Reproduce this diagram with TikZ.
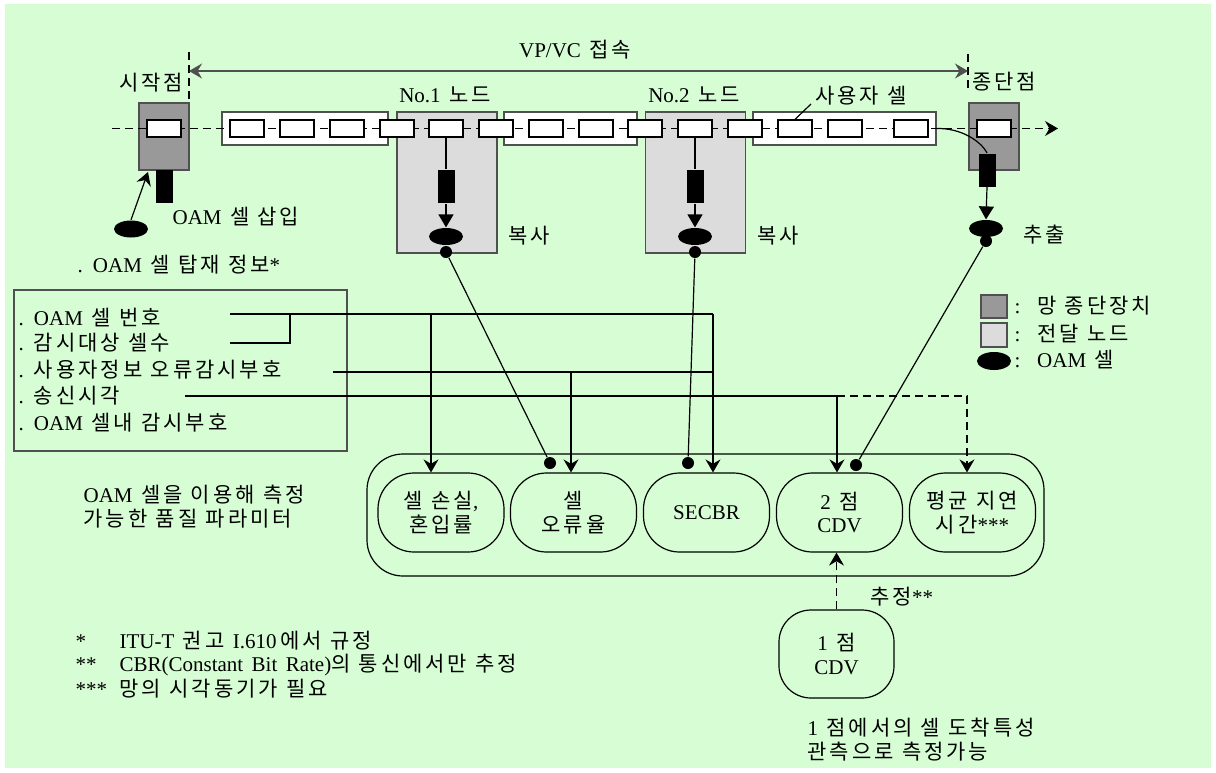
\documentclass[tikz,border=0pt]{standalone}
\usepackage{fontspec}
\setmainfont{Liberation Serif}[WordSpace=1.6]
\newfontfamily\krfont{Noto Sans CJK KR}[Scale=1.0, LetterSpace=14]
\usetikzlibrary{arrows.meta,shapes.geometric}

% Hangul goes to the CJK font, the rest stays in the main font
\XeTeXinterchartokenstate=1
\newXeTeXintercharclass\hangulclass
\newcount\hcnt
\hcnt="AC00
\loop
  \XeTeXcharclass\hcnt=\hangulclass
  \ifnum\hcnt<"D7A3 \advance\hcnt by 1 \repeat
\XeTeXinterchartoks 0 \hangulclass = {\krfont}
\XeTeXinterchartoks 4095 \hangulclass = {\krfont}
\XeTeXinterchartoks \hangulclass 0 = {\rmfamily}
\XeTeXinterchartoks \hangulclass 4095 = {\rmfamily}

\definecolor{bggreen}{RGB}{214,253,212}
\definecolor{termgray}{RGB}{153,153,153}
\definecolor{relaygray}{RGB}{220,220,220}
\definecolor{edgec}{RGB}{80,80,80}

\begin{document}
\begin{tikzpicture}[x=0.5pt, y=-0.5pt, line width=0.6pt,
  font=\fontsize{10.5}{11.75}\selectfont,
  txt/.style={inner sep=0pt, anchor=west},
  lbl/.style={inner sep=0pt},
  pipe/.style={draw=edgec, fill=white, minimum height=16.5pt, inner sep=0pt},
  relay/.style={draw=edgec, fill=relaygray, minimum width=50pt, minimum height=70.5pt, inner sep=0pt},
  term/.style={draw=edgec, fill=termgray, minimum width=25pt, minimum height=33.5pt, inner sep=0pt},
  cell/.style={draw, fill=white, minimum width=17pt, minimum height=8.5pt, inner sep=0pt},
  blk/.style={fill=black, minimum width=8.5pt, minimum height=16.5pt, inner sep=0pt},
  oam/.style={ellipse, fill=black, minimum width=17pt, minimum height=8.5pt, inner sep=0pt},
  oamdot/.style={circle, fill=black, minimum size=6pt, inner sep=0pt},
  pill/.style={draw, rounded corners=18pt, minimum width=63pt, minimum height=39.5pt, align=center, inner sep=0pt},
  arr/.style={-{Stealth[length=6.5pt, width=7.5pt, inset=2.2pt]}},
  dbl/.style={{Stealth[length=6.5pt, width=7.5pt, inset=2.2pt]}-{Stealth[length=6.5pt, width=7.5pt, inset=2.2pt]}},
  tri/.style={-{Triangle[length=6.5pt, width=7.5pt]}},
  dsh/.style={dash pattern=on 4pt off 2.5pt}
]

  % --- Background ---
  \useasboundingbox (0,0) rectangle (1216,772);
  \fill[white] (0,0) rectangle (1216,772);
  \fill[bggreen] (5,4) rectangle (1211,768);

  % --- VP/VC span ---
  \coordinate (vl) at (189,71);
  \coordinate (vr) at (968,71);
  \coordinate (vlt) at (189,52);  \coordinate (vlb) at (189,103);
  \coordinate (vrt) at (968,54);  \coordinate (vrb) at (968,92);
  \draw[dsh] (vlt) -- (vlb);
  \draw[dsh] (vrt) -- (vrb);
  \draw[dbl, edgec] (vl) -- (vr);
  \node[lbl] (vpvc) at (575,50) {VP/VC 접속};
  \node[lbl] (srcl) at (151,83) {시작점};
  \node[lbl] (dstl) at (1004,82) {종단점};
  \node[lbl] (n1l) at (445,95) {No.1 노드};
  \node[lbl] (n2l) at (694,95) {No.2 노드};

  % --- Boxes along the path ---
  \node[pipe, minimum width=83pt] (p1) at (305,128.5) {};
  \node[pipe, minimum width=66.5pt] (p2) at (570.5,128.5) {};
  \node[pipe, minimum width=91.5pt] (p3) at (844.5,128.5) {};
  \node[relay] (n1) at (447,182.5) {};
  \node[relay] (n2) at (695.5,182.5) {};
  \node[term] (st) at (164,136.5) {};
  \node[term] (et) at (994,136.5) {};

  % --- Cell stream ---
  \coordinate (lin) at (112,128.5);
  \coordinate (lout) at (1058,128.5);
  \draw[dsh, arr] (lin) -- (lout);
  \foreach \cx [count=\i] in {164,247,297,347,397,446,496,546,596,645,695,745,795,845,911,994}
    \node[cell] (c\i) at (\cx,128.5) {};
  \node[lbl] (usr) at (861,96) {사용자 셀};
  \coordinate (usrp) at (811,104);
  \draw (usrp) -- (c13.north);

  % --- Insertion at the source ---
  \node[blk] (b0) at (164,186.5) {};
  \node[oam] (e0) at (131,229) {};
  \coordinate (ins) at (148,172);
  \draw[arr] (e0.north) -- (ins);
  \node[txt] (insl) at (172,217) {OAM 셀 삽입};
  \node[txt] (carry) at (77,265) {. OAM 셀 탑재 정보*};

  % --- Copy in the nodes ---
  \node[blk] (b1) at (446,186.5) {};
  \node[blk] (b2) at (695,186.5) {};
  \node[oam] (e1) at (446,236.5) {};
  \node[oam] (e2) at (695,236.5) {};
  \draw (c6.south) -- (b1.north);
  \draw (c11.south) -- (b2.north);
  \draw[tri] (b1.south) -- (e1.north);
  \draw[tri] (b2.south) -- (e2.north);
  \node[oamdot] (d1) at (446,252) {};
  \node[oamdot] (d2) at (695,252) {};
  \node[txt] (cp1) at (508,236) {복사};
  \node[txt] (cp2) at (757,236) {복사};

  % --- Extraction at the sink ---
  \node[blk] (b3) at (987,170) {};
  \draw (p3.east) .. controls (960,128) and (980,140) .. (b3.north);
  \node[oam] (e3) at (986,228.5) {};
  \draw[tri] (b3.south) -- (e3.north);
  \node[oamdot] (d3) at (986,241) {};
  \node[txt] (ext) at (1023,235) {추출};

  % --- Legend ---
  \node[term, minimum width=13pt, minimum height=11.5pt] (lg1) at (994,306.5) {};
  \node[relay, minimum width=13pt, minimum height=12pt] (lg2) at (994,335) {};
  \node[oam, minimum height=9pt] (lg3) at (994,361) {};
  \node[txt] (lt1) at (1014,306) {:\ \ 망 종단장치};
  \node[txt] (lt2) at (1014,334) {:\ \ 전달 노드};
  \node[txt] (lt3) at (1014,360) {:\ \ OAM 셀};

  % --- OAM cell contents ---
  \node[draw=edgec, minimum width=166.5pt, minimum height=80.5pt, inner sep=0pt] (info) at (180.5,370.5) {};
  \node[txt] (i1) at (18,318) {. OAM 셀 번호};
  \node[txt] (i2) at (18,343) {. 감시대상 셀수};
  \node[txt] (i3) at (18,370) {. 사용자정보 오류감시부호};
  \node[txt] (i4) at (18,396) {. 송신시각};
  \node[txt] (i5) at (18,423) {. OAM 셀내 감시부호};

  % --- Measurable parameters ---
  \node[draw, rounded corners=18pt, minimum width=338.5pt, minimum height=61pt, inner sep=0pt] (qual) at (705.5,515) {};
  \node[pill] (m1) at (441,512.5) {셀 손실,\\혼입률};
  \node[pill] (m2) at (573.5,512.5) {셀\\오류율};
  \node[pill] (m3) at (706.5,512.5) {SECBR};
  \node[pill] (m4) at (839.5,512.5) {2 점\\CDV};
  \node[pill] (m5) at (972.5,512.5) {평균 지연\\시간***};
  \node[txt, align=left] (ql) at (83,506.5) {OAM 셀을 이용해 측정\\가능한 품질 파라미터};

  % --- Field lines ---
  \coordinate (s1) at (230,314);
  \coordinate (s2) at (230,343);
  \coordinate (s3) at (333,372);
  \coordinate (s4) at (185,396);
  \coordinate (k2) at (290,314);
  \coordinate (t1) at (431,314);
  \coordinate (t2) at (571,372);
  \coordinate (t3) at (713,314);
  \coordinate (t4) at (837,396);
  \coordinate (t5) at (967,396);
  \draw (s1) -- (t3);
  \draw (s2) -| (k2);
  \draw (s3) -- (t3 |- s3);
  \draw (s4) -- (t4);
  \draw[arr] (t1) -- (t1 |- m1.north);
  \draw[arr] (t2) -- (t2 |- m2.north);
  \draw[arr] (t3) -- (t3 |- m3.north);
  \draw[arr] (t4) -- (t4 |- m4.north);
  \draw[arr, dsh] (t4) -- (t5) -- (t5 |- m5.north);

  % --- Copied / extracted cells to parameters ---
  \node[oamdot] (q1) at (550,463) {};
  \node[oamdot] (q2) at (688,463) {};
  \node[oamdot] (q3) at (856,465) {};
  \draw (d1) -- (q1);
  \draw (d2) -- (q2);
  \draw (d3) -- (q3);

  % --- One point CDV ---
  \node[pill, rounded corners=16pt, minimum width=57.5pt, minimum height=44pt] (one) at (836.5,654) {1 점\\CDV};
  \draw[arr, dsh] (one.north) -- (one.north |- m4.south);
  \node[txt] (estl) at (870,597) {추정**};
  \node[txt, align=left] (onel) at (807,739.5) {1 점에서의 셀 도착특성\\관측으로 측정가능};

  % --- Notes ---
  \node[txt] (f1) at (75,641) {\makebox[22pt][l]{*}ITU-T 권고 I.610\,에서 규정};
  \node[txt] (f2) at (75,665) {\makebox[22pt][l]{**}CBR(Constant Bit Rate)의 통신에서만 추정};
  \node[txt] (f3) at (75,689) {\makebox[22pt][l]{***}망의 시각동기가 필요};

\end{tikzpicture}
\end{document}
